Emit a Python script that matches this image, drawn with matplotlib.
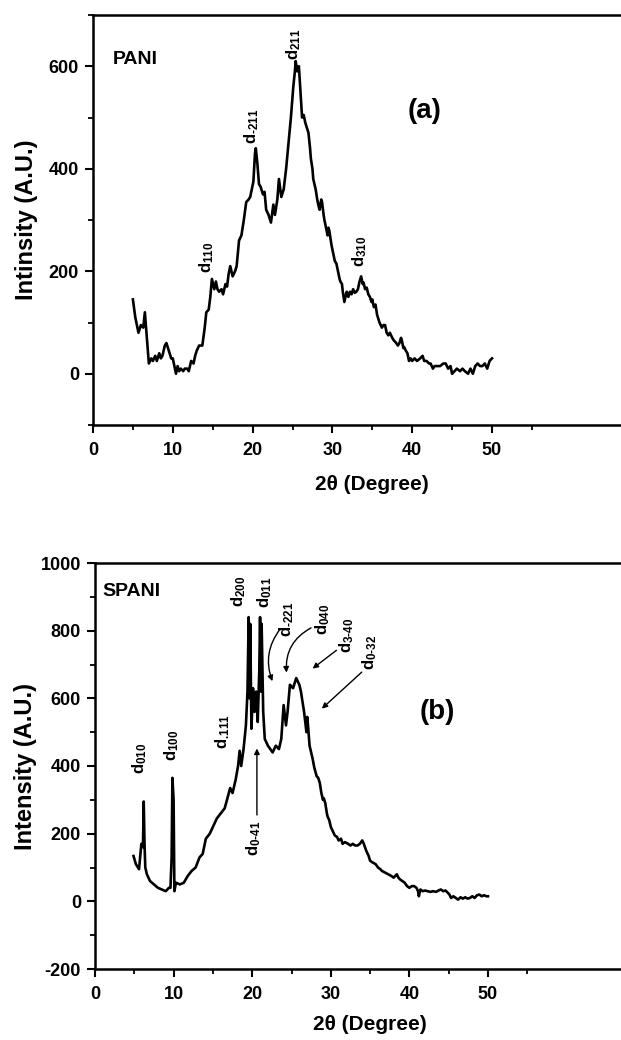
import matplotlib
matplotlib.use('Agg')
import matplotlib.pyplot as plt
from matplotlib.ticker import MultipleLocator, FixedLocator

plt.rcParams['font.family'] = ['Liberation Sans', 'DejaVu Sans']
plt.rcParams['font.weight'] = 'bold'
plt.rcParams['axes.unicode_minus'] = False
plt.rcParams['mathtext.fontset'] = 'custom'
plt.rcParams['mathtext.rm'] = 'Liberation Sans:bold'
plt.rcParams['mathtext.it'] = 'Liberation Sans:bold'
plt.rcParams['mathtext.bf'] = 'Liberation Sans:bold'

# PANI pattern (2theta, intensity)
pani_x = [5.0, 5.3, 5.7, 6.0, 6.3, 6.5, 6.8, 7.0, 7.3, 7.5, 7.8, 8.0, 8.3, 8.5, 8.7,
          9.0, 9.2, 9.4, 9.6, 9.8, 10.0, 10.2, 10.4, 10.6, 10.8, 11.0, 11.3, 11.5, 11.8,
          12.0, 12.3, 12.6, 12.8, 13.0, 13.3, 13.7, 14.0, 14.2, 14.5, 14.7, 14.9, 15.2,
          15.4, 15.6, 15.8, 16.1, 16.3, 16.6, 16.8, 17.0, 17.2, 17.5, 17.8, 18.0, 18.3,
          18.6, 18.9, 19.2, 19.5, 19.7, 19.9, 20.1, 20.3, 20.4, 20.6, 20.8, 21.0, 21.3,
          21.5, 21.7, 22.0, 22.3, 22.6, 22.8, 23.1, 23.3, 23.6, 23.9, 24.2, 24.5, 24.8,
          25.1, 25.3, 25.4, 25.6, 25.8, 26.0, 26.2, 26.4, 26.6, 26.8, 27.0, 27.2, 27.3,
          27.5, 27.6, 27.9, 28.1, 28.3, 28.4, 28.6, 28.7, 28.9, 29.0, 29.2, 29.4, 29.5,
          29.6, 29.8, 29.9, 30.1, 30.3, 30.5, 30.7, 30.9, 31.0, 31.2, 31.3, 31.5, 31.7,
          31.8, 32.0, 32.2, 32.4, 32.6, 32.8, 33.0, 33.2, 33.4, 33.6, 33.8, 33.9, 34.1,
          34.3, 34.5, 34.7, 34.9, 35.0, 35.2, 35.4, 35.6, 35.7, 35.9, 36.2, 36.4, 36.6,
          36.8, 37.0, 37.2, 37.5, 37.7, 38.0, 38.2, 38.4, 38.6, 38.7, 38.9, 39.0, 39.2,
          39.4, 39.6, 39.8, 40.0, 40.3, 40.6, 41.0, 41.3, 41.5, 41.8, 42.1, 42.3, 42.6,
          42.8, 43.2, 43.5, 43.9, 44.2, 44.5, 44.8, 45.0, 45.3, 45.6, 46.0, 46.3, 46.6,
          47.0, 47.3, 47.6, 47.9, 48.2, 48.5, 48.8, 49.1, 49.4, 49.7, 50.0]
pani_y = [145, 110, 80, 95, 90, 120, 60, 20, 30, 25, 35, 25, 40, 30, 35,
          55, 60, 50, 40, 30, 30, 15, 0, 15, 5, 10, 5, 10, 10,
          5, 25, 20, 35, 45, 55, 55, 90, 120, 125, 150, 185, 165,
          180, 165, 160, 165, 155, 175, 170, 195, 210, 190, 200, 210, 260,
          270, 300, 335, 340, 345, 360, 375, 430, 440, 410, 370, 365, 350,
          355, 320, 310, 295, 330, 310, 340, 380, 345, 360, 400, 450, 500,
          560, 590, 610, 590, 600, 550, 500, 505, 490, 480, 470, 440, 420,
          400, 380, 360, 340, 325, 320, 340, 335, 310, 300, 285, 270, 285,
          280, 260, 250, 235, 220, 215, 200, 185, 180, 175, 160, 140, 155,
          160, 150, 160, 155, 165, 158, 160, 165, 180, 190, 175, 178, 165,
          168, 155, 150, 140, 145, 130, 135, 115, 110, 100, 90, 95, 95,
          80, 75, 80, 70, 65, 60, 55, 60, 70, 65, 50, 52, 45,
          40, 25, 30, 25, 30, 25, 30, 35, 25, 25, 20, 20, 10,
          15, 15, 15, 20, 20, 10, 15, 0, 5, 10, 5, 10, 5,
          0, 10, 0, 15, 20, 15, 15, 20, 10, 25, 30]

# SPANI pattern
spani_x = [4.9, 5.2, 5.6, 5.9, 6.1, 6.2, 6.3, 6.4, 6.6, 7.0, 7.5, 8.0, 8.5, 9.0, 9.4,
           9.6, 9.75, 9.85, 10.0, 10.1, 10.3, 10.8, 11.3, 11.8, 12.3, 12.8, 13.3, 13.7,
           14.1, 14.6, 15.0, 15.5, 16.0, 16.5, 16.9, 17.2, 17.5, 17.9, 18.2, 18.4, 18.6,
           18.9, 19.2, 19.4, 19.55, 19.65, 19.75, 19.9, 20.1, 20.3, 20.5, 20.7, 20.9,
           21.0, 21.1, 21.2, 21.4, 21.6, 22.0, 22.3, 22.6, 23.0, 23.4, 23.7, 24.0, 24.3,
           24.5, 24.8, 25.2, 25.6, 26.0, 26.2, 26.4, 26.6, 26.8, 26.9, 27.0, 27.1, 27.3,
           27.5, 27.7, 27.9, 28.2, 28.4, 28.6, 28.8, 29.0, 29.1, 29.3, 29.5, 29.6, 29.8,
           30.0, 30.2, 30.5, 30.8, 31.0, 31.3, 31.5, 31.8, 32.2, 32.5, 32.8, 33.1, 33.4,
           33.7, 34.0, 34.2, 34.5, 34.8, 35.0, 35.3, 35.7, 36.0, 36.3, 36.5, 36.9, 37.3,
           37.7, 38.0, 38.2, 38.4, 38.6, 38.8, 39.1, 39.4, 39.7, 40.0, 40.3, 40.6, 40.9,
           41.1, 41.2, 41.4, 41.7, 42.0, 42.3, 42.7, 43.0, 43.4, 43.7, 44.0, 44.3, 44.6,
           44.9, 45.1, 45.3, 45.6, 45.9, 46.2, 46.5, 46.8, 47.1, 47.4, 47.7, 48.0, 48.3,
           48.6, 48.9, 49.2, 49.5, 49.8, 50.0]
spani_y = [134, 110, 95, 170, 160, 295, 170, 100, 80, 60, 50, 40, 35, 30, 40,
           40, 130, 365, 300, 30, 55, 50, 55, 75, 90, 100, 130, 140,
           185, 200, 220, 245, 260, 275, 310, 335, 320, 360, 400, 445, 400,
           450, 520, 620, 840, 600, 820, 510, 630, 560, 620, 530, 680,
           840, 620, 820, 560, 480, 460, 450, 440, 460, 450, 480, 580, 520,
           560, 640, 630, 660, 640, 620, 590, 560, 520, 500, 545, 520, 460,
           440, 420, 395, 370, 365, 350, 320, 300, 305, 290, 260, 250, 240,
           220, 210, 195, 190, 180, 185, 170, 175, 170, 165, 170, 165, 165,
           170, 180, 170, 150, 135, 120, 115, 110, 100, 95, 90, 85, 80,
           75, 70, 75, 80, 70, 65, 60, 55, 45, 40, 45, 45, 40,
           30, 15, 35, 30, 32, 30, 28, 30, 28, 32, 35, 30, 32,
           25, 20, 10, 15, 10, 5, 12, 8, 12, 8, 10, 15, 10,
           18, 20, 15, 18, 15, 15]

W, H = 621, 1040
fig = plt.figure(figsize=(W / 100, H / 100), dpi=100)

ax1 = fig.add_axes([93 / W, 1 - 425 / H, 558.6 / W, 410 / H])
ax2 = fig.add_axes([95 / W, 1 - 969 / H, 550.2 / W, 406 / H])

for ax in (ax1, ax2):
    ax.set_xlim(0, 70)
    ax.xaxis.set_major_locator(FixedLocator([0, 10, 20, 30, 40, 50]))
    ax.xaxis.set_minor_locator(FixedLocator([5, 15, 25, 35, 45, 55]))
    ax.yaxis.set_minor_locator(MultipleLocator(100))
    ax.tick_params(which='major', direction='out', length=6, width=1.5, labelsize=13, pad=4)
    ax.tick_params(which='minor', direction='out', length=3.5, width=1.3)
    ax.tick_params(axis='x', which='major', pad=6)
    ax.tick_params(right=False, top=False)
    for s in ax.spines.values():
        s.set_linewidth(1.8)
    for lab in ax.get_xticklabels() + ax.get_yticklabels():
        lab.set_fontweight('bold')

# panel (a)
ax1.plot(pani_x, pani_y, color='black', lw=1.9)
ax1.set_ylim(-100, 700)
ax1.set_yticks([0, 200, 400, 600])
ax1.set_xlabel('2θ (Degree)', fontsize=15, fontweight='bold', labelpad=12)
ax1.set_ylabel('Intinsity (A.U.)', fontsize=17, fontweight='bold', labelpad=8)
ax1.text(2.5, 613, 'PANI', fontsize=14, fontweight='bold', va='center')
ax1.text(41.6, 512, '(a)', fontsize=20, fontweight='bold', ha='center', va='center')

lbl_a = [(14.3, 196, '110'), (19.9, 448, '-211'), (25.2, 613, '211'), (33.4, 208, '310')]
for x, y, sub in lbl_a:
    ax1.text(x, y, r'$\mathrm{d_{\text{%s}}}$' % sub, rotation=90, fontsize=12,
             ha='center', va='bottom')

# panel (b)
ax2.plot(spani_x, spani_y, color='black', lw=1.9)
ax2.set_ylim(-200, 1000)
ax2.set_yticks([-200, 0, 200, 400, 600, 800, 1000])
ax2.set_xlabel('2θ (Degree)', fontsize=15, fontweight='bold', labelpad=9)
ax2.set_ylabel('Intensity (A.U.)', fontsize=17, fontweight='bold', labelpad=3)
ax2.text(1.0, 915, 'SPANI', fontsize=14, fontweight='bold', va='center')
ax2.text(43.5, 560, '(b)', fontsize=20, fontweight='bold', ha='center', va='center')

lbl_b = [(5.7, 376, '010'), (9.8, 416, '100'), (16.3, 450, '.111'),
         (18.25, 871, '200'), (21.6, 866, '011'), (24.4, 782, '-221'),
         (28.9, 787, '040'), (32.0, 733, '3-40'), (35.0, 683, '0-32')]
for x, y, sub in lbl_b:
    ax2.text(x, y, r'$\mathrm{d_{\text{%s}}}$' % sub, rotation=90, fontsize=12,
             ha='center', va='bottom')
ax2.text(20.2, 238, r'$\mathrm{d_{\text{0-41}}}$', rotation=90, fontsize=12,
         ha='center', va='top')

arrow = dict(arrowstyle='-|>', color='black', lw=1.0, mutation_scale=8)
ax2.annotate('', xy=(20.6, 460), xytext=(20.6, 247), arrowprops=arrow)
ax2.annotate('', xy=(22.7, 643), xytext=(23.8, 812),
             arrowprops=dict(arrow, connectionstyle='arc3,rad=0.3'))
ax2.annotate('', xy=(24.4, 668), xytext=(27.8, 812),
             arrowprops=dict(arrow, connectionstyle='arc3,rad=0.35'))
ax2.annotate('', xy=(27.4, 683), xytext=(31.0, 747), arrowprops=arrow)
ax2.annotate('', xy=(28.6, 564), xytext=(34.2, 683), arrowprops=arrow)

fig.savefig('out.png', dpi=100)
